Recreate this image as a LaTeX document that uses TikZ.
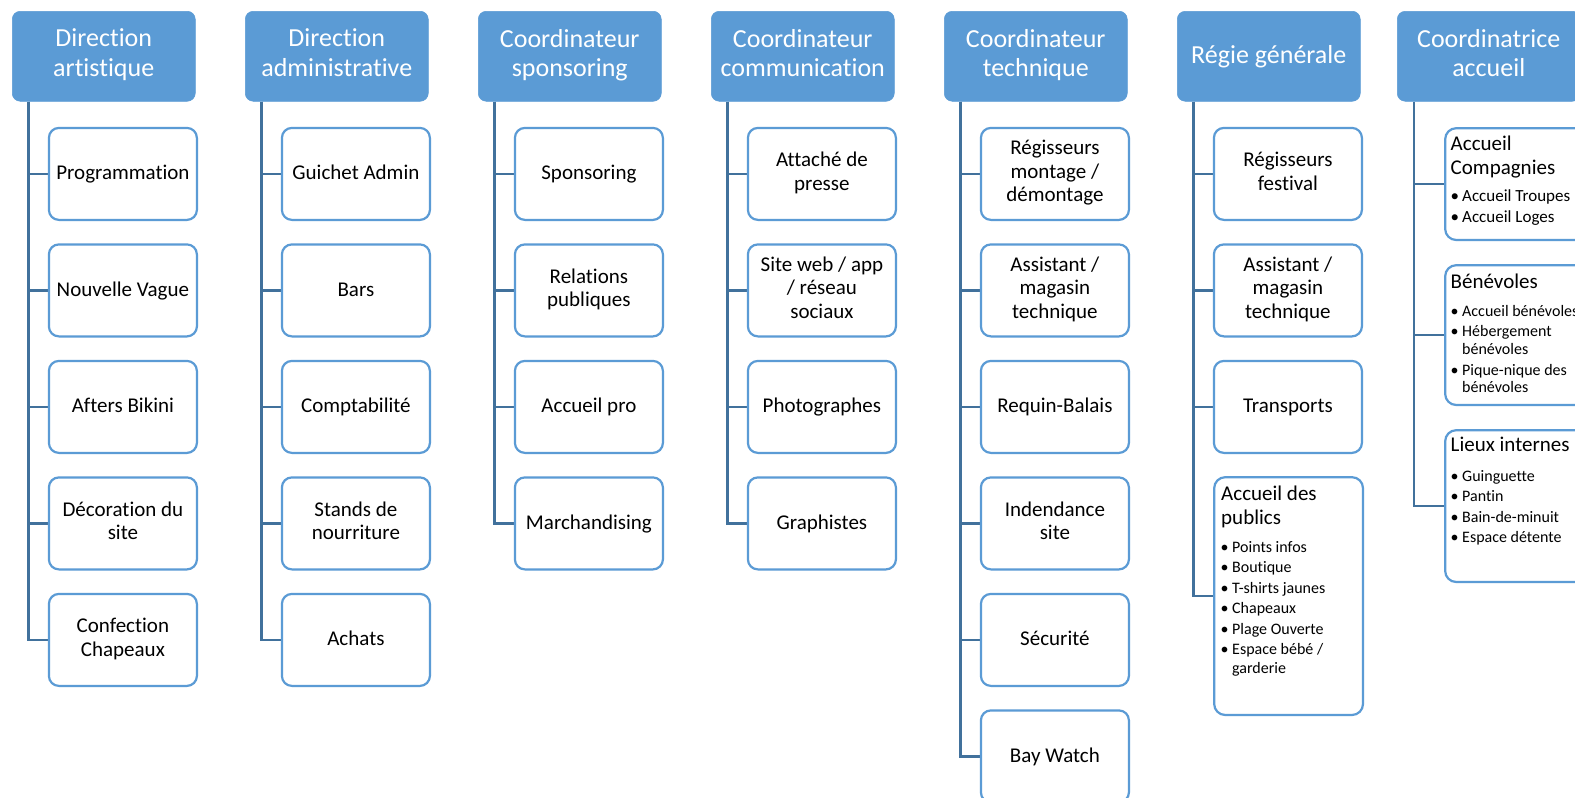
\documentclass[tikz,border=0pt]{standalone}
\usepackage{fontspec}
\setmainfont{Carlito}[Ligatures=NoCommon]
\usetikzlibrary{calc}
\definecolor{hdblue}{RGB}{91,155,213}
\definecolor{lnblue}{RGB}{65,113,156}
\pgfdeclarelayer{bg}
\pgfdeclarelayer{paper}
\pgfsetlayers{paper,bg,main}
\tikzset{
 hd/.style={rectangle, rounded corners=8pt, fill=hdblue, draw=hdblue, line width=0.5pt, minimum width=183pt, minimum height=90pt, inner sep=0pt, text=white, align=center, font=\fontsize{26}{29.5}\selectfont, execute at begin node=\rule{0pt}{20.5pt}, execute at end node=\rule[-7pt]{0pt}{7pt}},
 kid/.style={rectangle, rounded corners=10pt, draw=hdblue, line width=2.2pt, fill=white, minimum width=148pt, minimum height=92pt, inner sep=0pt, align=center, text=black, font=\fontsize{21}{23.5}\selectfont, execute at begin node=\rule{0pt}{17.5pt}, execute at end node=\rule[-5.5pt]{0pt}{5.5pt}},
 bigbox/.style={rectangle, rounded corners=11pt, draw=hdblue, line width=2.2pt, fill=white, inner sep=0pt},
 conn/.style={draw=lnblue, line width=2.6pt},
 ln/.style={inner sep=0pt, anchor=base west, text=black},
 sub/.style={ln, font=\fontsize{21}{24}\selectfont},
 bul/.style={ln, font=\fontsize{16}{19}\selectfont},
 bulb/.style={ln, font=\fontsize{17}{20}\selectfont},
}
\newcommand{\bu}{\makebox[11.5pt][l]{\textbullet}}
\newcommand{\nb}{\hspace*{11.5pt}}
\newcommand{\kid}[5]{%
  \node[kid, anchor=north west] (#1) at ({#3+35.8},{126.8+116.5*#4}) {#5};
  \begin{pgfonlayer}{bg}
  \draw[conn] ($(#2.south west)+(16.5,0)$) |- (#1.west);
  \end{pgfonlayer}
}
\begin{document}
\begin{tikzpicture}[x=1pt,y=-1pt]
\clip (0,0) rectangle (1575,798);
\begin{pgfonlayer}{paper}
\fill[white] (0,0) rectangle (1575,798);
\end{pgfonlayer}

% headers
\node[hd, anchor=north west] (h1) at (12,11) {Direction\\artistique};
\node[hd, anchor=north west] (h2) at (245,11) {Direction\\administrative};
\node[hd, anchor=north west] (h3) at (478,11) {Coordinateur\\sponsoring};
\node[hd, anchor=north west] (h4) at (711,11) {Coordinateur\\communication};
\node[hd, anchor=north west] (h5) at (944,11) {Coordinateur\\technique};
\node[hd, anchor=north west] (h6) at (1177,11) {Régie générale};
\node[hd, anchor=north west] (h7) at (1397,11) {Coordinatrice\\accueil};

% column 1
\kid{a1}{h1}{12}{0}{Programmation}
\kid{a2}{h1}{12}{1}{Nouvelle Vague}
\kid{a3}{h1}{12}{2}{Afters Bikini}
\kid{a4}{h1}{12}{3}{Décoration du\\site}
\kid{a5}{h1}{12}{4}{Confection\\Chapeaux}
% column 2
\kid{b1}{h2}{245}{0}{Guichet Admin}
\kid{b2}{h2}{245}{1}{Bars}
\kid{b3}{h2}{245}{2}{Comptabilité}
\kid{b4}{h2}{245}{3}{Stands de\\nourriture}
\kid{b5}{h2}{245}{4}{Achats}
% column 3
\kid{c1}{h3}{478}{0}{Sponsoring}
\kid{c2}{h3}{478}{1}{Relations\\publiques}
\kid{c3}{h3}{478}{2}{Accueil pro}
\kid{c4}{h3}{478}{3}{Marchandising}
% column 4
\kid{d1}{h4}{711}{0}{Attaché de\\presse}
\kid{d2}{h4}{711}{1}{Site web / app\\/ réseau\\sociaux}
\kid{d3}{h4}{711}{2}{Photographes}
\kid{d4}{h4}{711}{3}{Graphistes}
% column 5
\kid{e1}{h5}{944}{0}{Régisseurs\\montage /\\démontage}
\kid{e2}{h5}{944}{1}{Assistant /\\magasin\\technique}
\kid{e3}{h5}{944}{2}{Requin-Balais}
\kid{e4}{h5}{944}{3}{Indendance\\site}
\kid{e5}{h5}{944}{4}{Sécurité}
\kid{e6}{h5}{944}{5}{Bay Watch}
% column 6
\kid{f1}{h6}{1177}{0}{Régisseurs\\festival}
\kid{f2}{h6}{1177}{1}{Assistant /\\magasin\\technique}
\kid{f3}{h6}{1177}{2}{Transports}
\node[bigbox, anchor=north west, minimum width=148.8pt, minimum height=237.8pt] (f4) at (1213.1,476.1) {};
\begin{pgfonlayer}{bg}
\draw[conn] ($(h6.south west)+(16.5,0)$) |- (f4.west);
\end{pgfonlayer}
\node[sub] (f4t1) at (1221,500) {Accueil des};
\node[sub] (f4t2) at (1221,524.5) {publics};
\node[bul] (f4l1) at (1220.5,552) {\bu Points infos};
\node[bul] (f4l2) at (1220.5,572.5) {\bu Boutique};
\node[bul] (f4l3) at (1220.5,593) {\bu T-shirts jaunes};
\node[bul] (f4l4) at (1220.5,613.5) {\bu Chapeaux};
\node[bul] (f4l5) at (1220.5,634) {\bu Plage Ouverte};
\node[bul] (f4l6) at (1220.5,654.5) {\bu Espace bébé /};
\node[bul] (f4l7) at (1220.5,673) {\nb garderie};

% column 7
\node[bigbox, anchor=north west, minimum width=150pt, minimum height=111.8pt] (g1) at (1444.1,127.1) {};
\node[bigbox, anchor=north west, minimum width=150pt, minimum height=139.8pt] (g2) at (1444.1,264.1) {};
\node[bigbox, anchor=north west, minimum width=150pt, minimum height=151.8pt] (g3) at (1444.1,429.1) {};
\begin{pgfonlayer}{bg}
\draw[conn] ($(h7.south west)+(17,0)$) |- (g1.west);
\draw[conn] ($(h7.south west)+(17,0)$) |- (g2.west);
\draw[conn] ($(h7.south west)+(17,0)$) |- (g3.west);
\end{pgfonlayer}
\node[sub] (g1t1) at (1450.5,150.5) {Accueil};
\node[sub] (g1t2) at (1450.5,174) {Compagnies};
\node[bulb] (g1l1) at (1450.5,201) {\bu Accueil Troupes};
\node[bulb] (g1l2) at (1450.5,222) {\bu Accueil Loges};

\node[sub] (g2t1) at (1450.5,288) {Bénévoles};
\node[bul] (g2l1) at (1450.5,316) {\bu Accueil bénévoles};
\node[bul] (g2l2) at (1450.5,336) {\bu Hébergement};
\node[bul] (g2l3) at (1450.5,354) {\nb bénévoles};
\node[bul] (g2l4) at (1450.5,375.5) {\bu Pique-nique des};
\node[bul] (g2l5) at (1450.5,392.5) {\nb bénévoles};

\node[sub] (g3t1) at (1450.5,451.7) {Lieux internes};
\node[bul] (g3l1) at (1450.5,481) {\bu Guinguette};
\node[bul] (g3l2) at (1450.5,501.5) {\bu Pantin};
\node[bul] (g3l3) at (1450.5,522) {\bu Bain-de-minuit};
\node[bul] (g3l4) at (1450.5,542.5) {\bu Espace détente};
\end{tikzpicture}
\end{document}
